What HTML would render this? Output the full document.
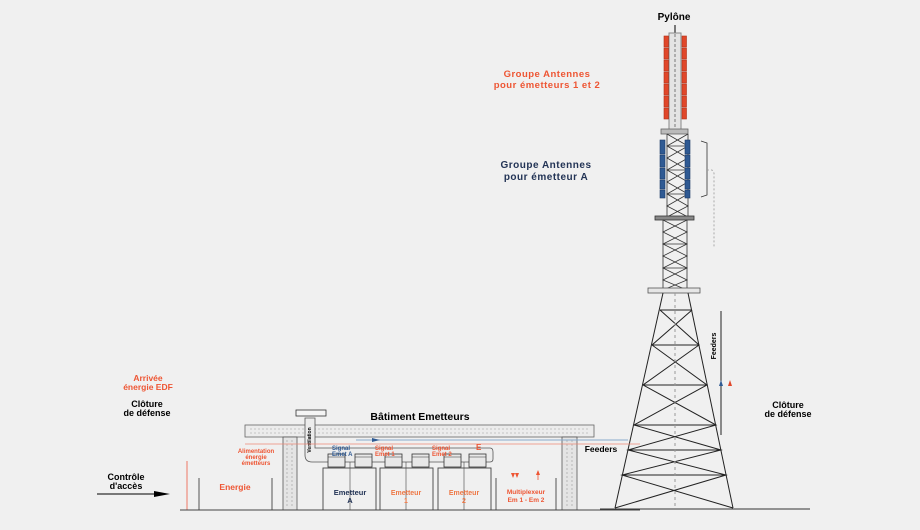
<!DOCTYPE html>
<html><head><meta charset="utf-8"><style>
html,body{margin:0;padding:0;background:#f0f0f0;}
svg{display:block;}
text{font-family:"Liberation Sans",sans-serif;font-weight:bold;}
</style></head><body>
<svg width="920" height="530" viewBox="0 0 920 530" xmlns="http://www.w3.org/2000/svg">
<rect width="920" height="530" fill="#f0f0f0"/>

<!-- Top labels -->
<text x="674" y="20" font-size="10" text-anchor="middle" fill="#000">Pylône</text>
<text x="547" y="77" font-size="9.5" text-anchor="middle" fill="#ee5533" letter-spacing="0.5">Groupe Antennes</text>
<text x="547" y="88" font-size="9.5" text-anchor="middle" fill="#ee5533" letter-spacing="0.5">pour émetteurs 1 et 2</text>
<text x="546" y="168" font-size="10" text-anchor="middle" fill="#223355" letter-spacing="0.5">Groupe Antennes</text>
<text x="546" y="180" font-size="10" text-anchor="middle" fill="#223355" letter-spacing="0.5">pour émetteur A</text>

<!-- Mast -->
<line x1="675" y1="25" x2="675" y2="34" stroke="#000" stroke-width="1"/>
<rect x="669" y="33" width="12" height="97" fill="#e4e4e4" stroke="#888" stroke-width="1"/>
<line x1="675" y1="34" x2="675" y2="130" stroke="#777" stroke-width="1" stroke-dasharray="3,2"/>
<g fill="#e0472a" stroke="#b03018" stroke-width="0.6">
<rect x="664" y="36" width="4.5" height="11"/><rect x="664" y="48" width="4.5" height="11"/><rect x="664" y="60" width="4.5" height="11"/><rect x="664" y="72" width="4.5" height="11"/><rect x="664" y="84" width="4.5" height="11"/><rect x="664" y="96" width="4.5" height="11"/><rect x="664" y="108" width="4.5" height="11"/>
<rect x="682" y="36" width="4.5" height="11"/><rect x="682" y="48" width="4.5" height="11"/><rect x="682" y="60" width="4.5" height="11"/><rect x="682" y="72" width="4.5" height="11"/><rect x="682" y="84" width="4.5" height="11"/><rect x="682" y="96" width="4.5" height="11"/><rect x="682" y="108" width="4.5" height="11"/>
</g>
<rect x="661" y="129" width="27" height="5" fill="#bbb" stroke="#666" stroke-width="0.8"/>

<!-- upper lattice -->
<g stroke="#333" stroke-width="0.8" fill="none">
<line x1="667" y1="134" x2="667" y2="217"/><line x1="688" y1="134" x2="688" y2="217"/>
<polyline points="667,134 688,146 667,158 688,170 667,182 688,194 667,206 688,217"/>
<polyline points="688,134 667,146 688,158 667,170 688,182 667,194 688,206 667,217"/>
<line x1="667" y1="146" x2="688" y2="146"/><line x1="667" y1="170" x2="688" y2="170"/><line x1="667" y1="194" x2="688" y2="194"/>
</g>
<g fill="#2f5a93" stroke="#1c3a66" stroke-width="0.6">
<rect x="660" y="140" width="5" height="14"/><rect x="660" y="155" width="5" height="12"/><rect x="660" y="168" width="5" height="11"/><rect x="660" y="180" width="5" height="9"/><rect x="660" y="190" width="5" height="8"/>
<rect x="685" y="140" width="5" height="14"/><rect x="685" y="155" width="5" height="12"/><rect x="685" y="168" width="5" height="11"/><rect x="685" y="180" width="5" height="9"/><rect x="685" y="190" width="5" height="8"/>
</g>
<g stroke="#333" stroke-width="0.8" fill="none">
<polyline points="701,141 707,143 707,195 701,197"/>
<polyline points="707,170 712,170 714,173 714,248" stroke="#999" stroke-dasharray="2,2"/>
</g>
<rect x="655" y="216" width="39" height="4" fill="#888" stroke="#333" stroke-width="0.8"/>

<!-- middle lattice -->
<g stroke="#333" stroke-width="0.8" fill="none">
<line x1="663" y1="220" x2="663" y2="290"/><line x1="687" y1="220" x2="687" y2="290"/>
<polyline points="663,220 687,232 663,244 687,256 663,268 687,280 663,290"/>
<polyline points="687,220 663,232 687,244 663,256 687,268 663,280 687,290"/>
<line x1="663" y1="244" x2="687" y2="244"/><line x1="663" y1="268" x2="687" y2="268"/>
</g>
<rect x="648" y="288" width="52" height="5" fill="#e6e6e6" stroke="#555" stroke-width="0.8"/>

<!-- lower legs -->
<g stroke="#222" stroke-width="1" fill="none">
<line x1="663" y1="293" x2="615" y2="508"/><line x1="688" y1="293" x2="733" y2="508"/>
<line x1="660" y1="310" x2="692" y2="310"/>
<line x1="652" y1="345" x2="699" y2="345"/>
<line x1="643" y1="385" x2="707" y2="385"/>
<line x1="634" y1="425" x2="716" y2="425"/>
<line x1="628" y1="450" x2="721" y2="450"/>
<line x1="622" y1="475" x2="726" y2="475"/>
<polyline points="660,310 699,345 643,385 716,425 628,450 726,475 615,508"/>
<polyline points="692,310 652,345 707,385 634,425 721,450 622,475 733,508"/>
<line x1="675" y1="293" x2="675" y2="508" stroke="#999" stroke-dasharray="3,3"/>
</g>
<line x1="600" y1="509" x2="810" y2="509" stroke="#333" stroke-width="1"/>

<!-- feeders vertical -->
<line x1="721" y1="311" x2="721" y2="435" stroke="#222" stroke-width="1"/>
<text transform="translate(716,346) rotate(-90)" font-size="7" text-anchor="middle" fill="#000">Feeders</text>
<polygon points="721,380 719,386 723,386" fill="#2f5a93"/>
<polygon points="730,380 728,386 732,386" fill="#e0472a"/>
<text x="788" y="408" font-size="9" text-anchor="middle" fill="#000">Clôture</text>
<text x="788" y="417" font-size="9" text-anchor="middle" fill="#000">de défense</text>

<!-- left labels -->
<text x="148" y="381" font-size="8.5" text-anchor="middle" fill="#ee5533">Arrivée</text>
<text x="148" y="390" font-size="8.5" text-anchor="middle" fill="#ee5533">énergie EDF</text>
<text x="147" y="407" font-size="9" text-anchor="middle" fill="#000">Clôture</text>
<text x="147" y="416" font-size="9" text-anchor="middle" fill="#000">de défense</text>
<text x="126" y="480" font-size="9" text-anchor="middle" fill="#000">Contrôle</text>
<text x="126" y="489" font-size="9" text-anchor="middle" fill="#000">d'accès</text>
<line x1="97" y1="494" x2="155" y2="494" stroke="#000" stroke-width="1"/>
<polygon points="154,491 170,494 154,497" fill="#000"/>
<line x1="187" y1="461" x2="187" y2="510" stroke="#ee7766" stroke-width="1"/>

<!-- building -->
<text x="420" y="420" font-size="10.5" text-anchor="middle" fill="#000">Bâtiment Emetteurs</text>
<rect x="296" y="410" width="30" height="6" fill="#f4f4f4" stroke="#333" stroke-width="0.8"/>
<rect x="245" y="425" width="349" height="12" fill="#ececec" stroke="#666" stroke-width="0.8"/>
<g stroke="#999" stroke-width="0.6" stroke-dasharray="2,2">
<line x1="250" y1="429" x2="590" y2="429"/><line x1="250" y1="433" x2="590" y2="433"/>
</g>
<rect x="283" y="437" width="14" height="73" fill="#e4e4e4" stroke="#555" stroke-width="0.8"/>
<rect x="562" y="437" width="15" height="73" fill="#e4e4e4" stroke="#555" stroke-width="0.8"/>
<g stroke="#999" stroke-width="0.6" stroke-dasharray="2,2">
<line x1="287" y1="440" x2="287" y2="508"/><line x1="292" y1="440" x2="292" y2="508"/>
<line x1="567" y1="440" x2="567" y2="508"/><line x1="572" y1="440" x2="572" y2="508"/>
</g>
<!-- duct -->
<path d="M305,418 L315,418 L315,448 L490,448 Q493,448 493,452 L493,459 Q493,462 490,462 L312,462 Q305,462 305,455 Z" fill="#ececec" stroke="#555" stroke-width="0.8"/>
<text transform="translate(311,440) rotate(-90)" font-size="5" text-anchor="middle" fill="#000">Ventilation</text>
<g fill="#e8e8e8" stroke="#333" stroke-width="0.8">
<rect x="328" y="454" width="17" height="13"/><rect x="355" y="454" width="17" height="13"/>
<rect x="385" y="454" width="17" height="13"/><rect x="412" y="454" width="17" height="13"/>
<rect x="444" y="454" width="17" height="13"/><rect x="469" y="454" width="17" height="13"/>
</g>
<g stroke="#333" stroke-width="0.6">
<line x1="328" y1="457" x2="345" y2="457"/><line x1="355" y1="457" x2="372" y2="457"/>
<line x1="385" y1="457" x2="402" y2="457"/><line x1="412" y1="457" x2="429" y2="457"/>
<line x1="444" y1="457" x2="461" y2="457"/><line x1="469" y1="457" x2="486" y2="457"/>
</g>
<!-- signal lines -->
<line x1="356" y1="440" x2="628" y2="440" stroke="#88aacc" stroke-width="1"/>
<polygon points="372,438 380,440 372,442" fill="#2f5a93"/>
<line x1="245" y1="444" x2="640" y2="444" stroke="#ee8877" stroke-width="0.8"/>
<text x="332" y="450" font-size="6" fill="#2f5a93">Signal</text>
<text x="332" y="456" font-size="6" fill="#2f5a93">Emet A</text>
<text x="375" y="450" font-size="6" fill="#ee5533">Signal</text>
<text x="375" y="456" font-size="6" fill="#ee5533">Emet 1</text>
<text x="432" y="450" font-size="6" fill="#ee5533">Signal</text>
<text x="432" y="456" font-size="6" fill="#ee5533">Emet 2</text>
<text x="476" y="450" font-size="8" fill="#ee5533">E</text>
<text x="256" y="453" font-size="6" text-anchor="middle" fill="#ee5533">Alimentation</text>
<text x="256" y="459" font-size="6" text-anchor="middle" fill="#ee5533">énergie</text>
<text x="256" y="465" font-size="6" text-anchor="middle" fill="#ee5533">émetteurs</text>
<text x="601" y="452" font-size="8.5" text-anchor="middle" fill="#000">Feeders</text>

<!-- boxes -->
<g fill="none" stroke="#444" stroke-width="0.9">
<polyline points="199,478 199,510 272,510 272,478"/>
<rect x="323" y="468" width="53" height="42"/>
<rect x="380" y="468" width="53" height="42"/>
<rect x="438" y="468" width="53" height="42"/>
<polyline points="496,478 496,510 556,510 556,478"/>
</g>
<g stroke="#444" stroke-width="0.6">
<line x1="350" y1="462" x2="350" y2="510"/><line x1="406" y1="462" x2="406" y2="510"/><line x1="464" y1="462" x2="464" y2="510"/>
</g>
<text x="235" y="490" font-size="8.5" text-anchor="middle" fill="#ee5533">Energie</text>
<text x="350" y="495" font-size="7.5" text-anchor="middle" fill="#223355">Emetteur</text>
<text x="350" y="503" font-size="7.5" text-anchor="middle" fill="#223355">A</text>
<text x="406" y="495" font-size="7" text-anchor="middle" fill="#ee7744">Emetteur</text>
<text x="406" y="503" font-size="7" text-anchor="middle" fill="#ee7744">1</text>
<text x="464" y="495" font-size="7" text-anchor="middle" fill="#ee7744">Emetteur</text>
<text x="464" y="503" font-size="7" text-anchor="middle" fill="#ee7744">2</text>
<text x="526" y="494" font-size="6.5" text-anchor="middle" fill="#ee5533">Multiplexeur</text>
<text x="526" y="502" font-size="6.5" text-anchor="middle" fill="#ee5533">Em 1 - Em 2</text>
<polygon points="511,473 513,478 515,473" fill="#ee5533"/>
<polygon points="515,473 517,478 519,473" fill="#ee5533"/>
<polygon points="538,470 536,475 540,475" fill="#ee5533"/>
<line x1="538" y1="474" x2="538" y2="480" stroke="#ee5533" stroke-width="0.8"/>
<line x1="180" y1="510" x2="640" y2="510" stroke="#444" stroke-width="1"/>
</svg>
</body></html>
